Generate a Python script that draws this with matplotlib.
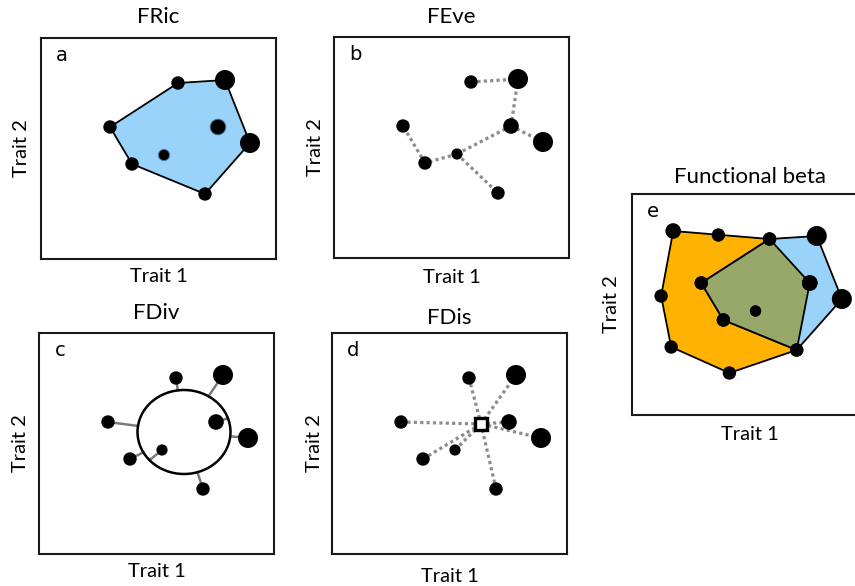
import numpy as np
import matplotlib.pyplot as plt
from matplotlib.patches import Polygon, Ellipse

plt.rcParams['font.family'] = ['Lato', 'DejaVu Sans']

# focal community: species positions in trait space and abundances
trait1 = [137, 184, 69, 177, 209, 123, 91, 164]
trait2 = [176, 179, 132, 132, 116, 104, 95, 65]
abund = [2, 5, 2, 3, 5, 1, 2, 2]

# FEve minimum spanning tree (pairs of species index)
mst_from = [0, 1, 3, 3, 5, 6, 5]
mst_to = [1, 3, 4, 5, 6, 2, 7]

# FDiv centre of gravity and circle of mean distance
gc_x, gc_y = 145, 122
circ_w, circ_h = 93, 84

# FDis abundance weighted centroid
cen_x, cen_y = 149, 130

# second community (functional beta): own species + shared ones
extra_t1 = [41, 86, 29, 39, 97]
extra_t2 = [184, 180, 119, 68, 42]
extra_ab = [3, 2, 2, 2, 2]
shared = [0, 2, 3, 5, 6, 7]

W, H = 855, 586


def box(left, top, w=235, h=221):
    return [left/W, 1-(top+h)/H, w/W, h/H]


def hull(x, y):
    pts = sorted(set(zip(x, y)))
    def cross(o, a, b):
        return (a[0]-o[0])*(b[1]-o[1]) - (a[1]-o[1])*(b[0]-o[0])
    lower, upper = [], []
    for p in pts:
        while len(lower) >= 2 and cross(lower[-2], lower[-1], p) <= 0:
            lower.pop()
        lower.append(p)
    for p in reversed(pts):
        while len(upper) >= 2 and cross(upper[-2], upper[-1], p) <= 0:
            upper.pop()
        upper.append(p)
    return lower[:-1] + upper[:-1]


def area(ab):
    d = 9 + 2.2*np.asarray(ab, dtype=float)   # diameter in px
    return (d*0.72)**2


def setup(ax, letter, title, tx=1.095, xl=-0.08, yl=-0.08):
    ax.set_xlim(0, 235)
    ax.set_ylim(0, 221)
    ax.set_xticks([])
    ax.set_yticks([])
    for s in ax.spines.values():
        s.set_linewidth(1.5)
        s.set_color('#1a1a1a')
    ax.text(0.09, 0.92, letter, transform=ax.transAxes, ha='center', va='center',
            fontsize=14, family='DejaVu Sans')
    ax.text(0.5, tx, title, transform=ax.transAxes, ha='center', va='center', fontsize=16)
    ax.set_xlabel('Trait 1', fontsize=14.5, va='center')
    ax.set_ylabel('Trait 2', fontsize=14.5, va='center')
    ax.xaxis.set_label_coords(0.5, xl)
    ax.yaxis.set_label_coords(yl, 0.5)


fig = plt.figure(figsize=(8.55, 5.86), dpi=100)
axa = fig.add_axes(box(41, 38))
axb = fig.add_axes(box(334, 37))
axc = fig.add_axes(box(39, 333))
axd = fig.add_axes(box(332, 333))
axe = fig.add_axes(box(632, 194, w=236))

dot = dict(color='k', zorder=5, linewidths=0)
dotted = dict(color='#8c8c8c', lw=2.3, linestyle=(0, (1, 1)), zorder=2)

# a  FRic
setup(axa, 'a', 'FRic', 1.095, -0.077, -0.082)
hv = hull(trait1, trait2)
axa.add_patch(Polygon(hv, closed=True, fc='#99d3fa', ec='k', lw=1.3, zorder=1))
inner = [i for i in range(len(trait1)) if (trait1[i], trait2[i]) not in hv]
axa.scatter(trait1, trait2, s=area(abund), **dot)
axa.scatter([trait1[i] for i in inner], [trait2[i] for i in inner],
            s=area([abund[i] for i in inner]), color='k', edgecolors='#4a7ea6',
            linewidths=0.7, zorder=6)

# b  FEve
setup(axb, 'b', 'FEve', 1.09, -0.086, -0.08)
for i, j in zip(mst_from, mst_to):
    axb.plot([trait1[i], trait1[j]], [trait2[i], trait2[j]], **dotted)
axb.scatter(trait1, trait2, s=area(abund), **dot)

# c  FDiv
setup(axc, 'c', 'FDiv', 1.09, -0.08, -0.08)
axc.add_patch(Ellipse((gc_x, gc_y), circ_w, circ_h, fc='none', ec='k', lw=1.8, zorder=3))
for x, y in zip(trait1, trait2):
    dx, dy = x - gc_x, y - gc_y
    t = 1/np.sqrt((dx/(circ_w/2))**2 + (dy/(circ_h/2))**2)
    axc.plot([x, gc_x + dx*t], [y, gc_y + dy*t], color='#7a7a7a', lw=1.8, zorder=2)
axc.scatter(trait1, trait2, s=area(abund), **dot)

# d  FDis
setup(axd, 'd', 'FDis', 1.068, -0.1, -0.073)
for x, y in zip(trait1, trait2):
    axd.plot([x, cen_x], [y, cen_y], **dotted)
axd.scatter(trait1, trait2, s=area(abund), **dot)
axd.plot(cen_x, cen_y, marker='s', ms=8, mfc='white', mec='k', mew=2.4, zorder=6)

# e  functional beta
setup(axe, 'e', 'Functional beta', 1.077, -0.09, -0.085)
t1_2 = extra_t1 + [trait1[i] for i in shared]
t2_2 = extra_t2 + [trait2[i] for i in shared]
ab_2 = extra_ab + [abund[i] for i in shared]
axe.add_patch(Polygon(hull(t1_2, t2_2), closed=True, fc='#ffb300', ec='k', lw=1.3, zorder=1))
axe.add_patch(Polygon(hull(trait1, trait2), closed=True, fc='#99d3fa', ec='k', lw=1.3, zorder=1))
axe.add_patch(Polygon(hull([trait1[i] for i in shared], [trait2[i] for i in shared]),
                      closed=True, fc='#98a86a', ec='k', lw=1.3, zorder=2))
axe.scatter(t1_2, t2_2, s=area(ab_2), **dot)
axe.scatter(trait1, trait2, s=area(abund), **dot)

fig.savefig('out.png', dpi=100)
